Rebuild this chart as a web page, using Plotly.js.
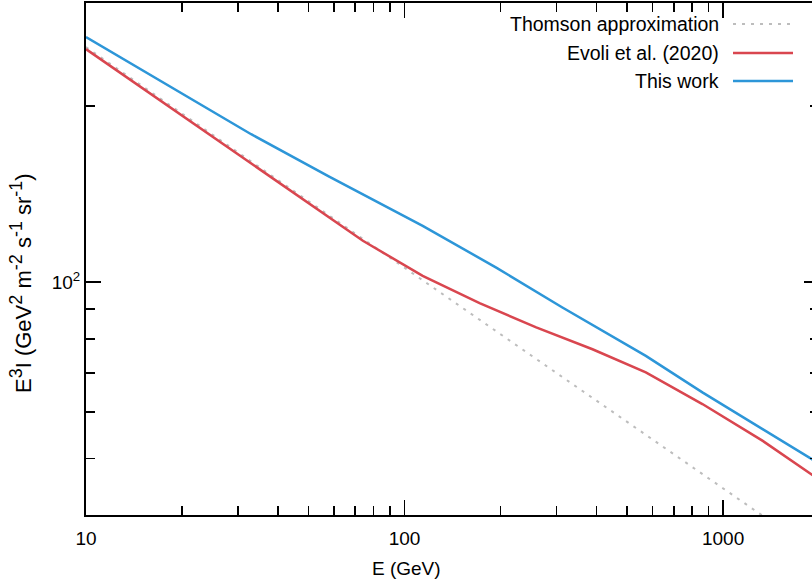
<!DOCTYPE html>
<html>
<head>
<meta charset="utf-8">
<script src="https://cdn.plot.ly/plotly-3.0.1.min.js"></script>
<style>
html, body { margin: 0; padding: 0; overflow: hidden; background: #fff; width: 812px; height: 588px; }
#chart { width: 822px; height: 588px; }
</style>
</head>
<body>
<div id="chart"></div>
<script>
// ---- data ----
const seriesNames = ["Thomson approximation", "Evoli et al. (2020)", "This work"];

const energyThomson = [10, 20, 50, 100, 200, 500, 1000, 2000];
const fluxThomson   = [252.2, 194.2, 137.4, 105.8, 81.4, 57.6, 44.4, 34.2];

const energyEvoli = [10, 20, 40, 74, 114, 172, 259, 389, 572, 861, 1328, 2000];
const fluxEvoli   = [250.2, 192.6, 148.2, 117.7, 102.5, 92.1, 83.7, 76.8, 70.1, 61.9, 53.6, 46.0];

const energyThis = [10, 20, 33, 58, 114, 194, 313, 572, 861, 2000];
const fluxThis   = [262.3, 210.0, 179.0, 151.5, 124.8, 105.9, 90.5, 74.8, 64.8, 49.0];

const xTickVals = [10, 100, 1000];
const xTickText = ["10", "100", "1000"];
const xMinorVals = [20, 30, 40, 50, 60, 70, 80, 90, 200, 300, 400, 500, 600, 700, 800, 900, 2000];
const yTickVals = [100];
const yTickText = ["10<sup>2</sup>"];
const yMinorVals = [50, 60, 70, 80, 90, 200];

// ---- styling ----
const colors = ["#bdbdbd", "#d9464f", "#2d96d8"];
const FONT = "Liberation Sans, Arial, sans-serif";
const W = 822, H = 588;
const M = { l: 86, r: 3, t: 3, b: 73 };
const PW = W - M.l - M.r, PH = H - M.t - M.b;
const px = (x) => (x - M.l) / PW;       // pixel -> paper x
const py = (y) => 1 - (y - M.t) / PH;   // pixel -> paper y
const DOTS = "3px,6px";
const sup = (s) => '<sup><span style="font-size:18px">' + s + '</span></sup>';

const traces = [
  { x: energyThomson, y: fluxThomson, name: seriesNames[0], mode: "lines",
    line: { color: colors[0], width: 2, dash: DOTS } },
  { x: energyEvoli, y: fluxEvoli, name: seriesNames[1], mode: "lines",
    line: { color: colors[1], width: 2.5 } },
  { x: energyThis, y: fluxThis, name: seriesNames[2], mode: "lines",
    line: { color: colors[2], width: 2.5 } }
];

const legendRows = [24, 53, 81];
const annotations = [];
const shapes = [];
seriesNames.forEach((nm, i) => {
  annotations.push({
    xref: "paper", yref: "paper", x: px(721), y: py(legendRows[i]),
    xanchor: "right", yanchor: "middle", text: nm, showarrow: false,
    font: { family: FONT, size: 19.5, color: "#000" }
  });
  shapes.push({
    type: "line", xref: "paper", yref: "paper",
    x0: px(733), x1: px(793), y0: py(legendRows[i]), y1: py(legendRows[i]),
    line: { color: colors[i], width: i === 0 ? 2 : 2.5, dash: i === 0 ? DOTS : "solid" }
  });
});
annotations.push({
  xref: "paper", yref: "paper", x: px(406), y: py(568),
  xanchor: "center", yanchor: "middle", text: "E (GeV)", showarrow: false,
  font: { family: FONT, size: 19, color: "#000" }
});
annotations.push({
  xref: "paper", yref: "paper", x: px(21), y: py(283), textangle: -90,
  xanchor: "center", yanchor: "middle",
  text: "E" + sup("3") + "I (GeV" + sup("2") + " m" + sup("-2") + " s" + sup("-1") + " sr" + sup("-1") + ")",
  showarrow: false, font: { family: FONT, size: 22, color: "#000" }
});

const axisCommon = {
  type: "log", showline: true, linecolor: "#000", linewidth: 2, mirror: "ticks",
  ticks: "inside", ticklen: 15, tickwidth: 1.5, tickcolor: "#000",
  showgrid: false, zeroline: false, tickmode: "array",
  tickfont: { family: FONT, size: 19, color: "#000" }
};

const layout = {
  width: W, height: H, margin: M, showlegend: false,
  paper_bgcolor: "#fff", plot_bgcolor: "#fff",
  font: { family: FONT, size: 19, color: "#000" },
  xaxis: Object.assign({}, axisCommon, {
    range: [1, Math.log10(2000)], tickvals: xTickVals, ticktext: xTickText,
    ticklabelstandoff: 5,
    minor: { tickmode: "array", tickvals: xMinorVals, ticks: "inside", ticklen: 9, tickwidth: 1.5, tickcolor: "#000", showgrid: false }
  }),
  yaxis: Object.assign({}, axisCommon, {
    range: [Math.log10(40), Math.log10(300)], tickvals: yTickVals, ticktext: yTickText,
    minor: { tickmode: "array", tickvals: yMinorVals, ticks: "inside", ticklen: 9, tickwidth: 1.5, tickcolor: "#000", showgrid: false }
  }),
  annotations: annotations,
  shapes: shapes
};

Plotly.newPlot("chart", traces, layout, { staticPlot: true, displayModeBar: false });
</script>
</body>
</html>
